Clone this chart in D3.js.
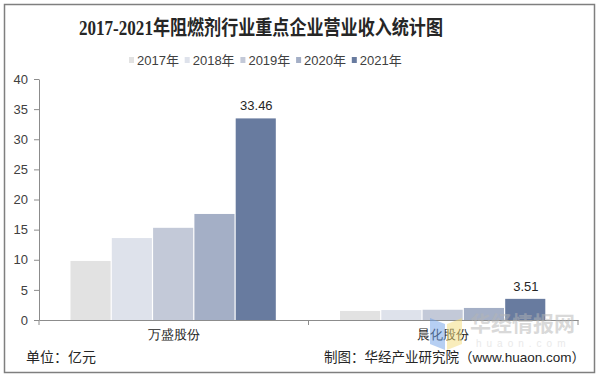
<!DOCTYPE html>
<html>
<head>
<meta charset="utf-8">
<script src="https://cdn.jsdelivr.net/npm/d3@7"></script>
<style>
  body { margin: 0; background: #fff; }
  svg { display: block; font-family: Arial, "Liberation Sans", "Noto Sans CJK SC", sans-serif; }
</style>
</head>
<body>
<div id="chart"></div>
<script>
// chart data
let companies = ["万盛股份", "晨化股份"];
let years = ["2017年", "2018年", "2019年", "2020年", "2021年"];
let wansheng = [9.8, 13.6, 15.3, 17.6, 33.46];
let chenhua = [1.5, 1.65, 1.7, 2.0, 3.51];
let yTicks = [0, 5, 10, 15, 20, 25, 30, 35, 40];
let colors = ["#e2e2e2", "#dee2eb", "#c3c9d8", "#a4afc6", "#687b9f"];

let width = 599;
let height = 376;

let svg = d3.select("#chart")
  .append("svg")
  .attr("width", width).attr("height", height);

// outer frame
svg.append("rect")
  .attr("x", 4.5).attr("y", 4.5)
  .attr("width", 590).attr("height", 368)
  .attr("fill", "none")
  .attr("stroke", "#7f7f7f")
  .attr("stroke-width", 1.5);

// title
svg.append("text")
  .attr("x", 261).attr("y", 35)
  .attr("text-anchor", "middle")
  .attr("font-family", "'Liberation Serif', 'Noto Sans CJK SC', serif")
  .attr("font-weight", "bold")
  .attr("font-size", 20)
  .attr("textLength", 364)
  .attr("lengthAdjust", "spacingAndGlyphs")
  .attr("fill", "#262626")
  .text("2017-2021年阻燃剂行业重点企业营业收入统计图");

// legend
let legend = svg.append("g")
  .selectAll("g")
  .data(years)
  .enter()
  .append("g")
  .attr("transform", (d, i) => `translate(${129 + i * 55.7}, 60)`);

legend.append("rect")
  .attr("x", 0).attr("y", -3)
  .attr("width", 5).attr("height", 6)
  .attr("fill", (d, i) => colors[i]);

legend.append("text")
  .attr("x", 8).attr("y", 4.5)
  .attr("font-size", 13)
  .attr("fill", "#404040")
  .text(d => d);

// scales
let xScale = d3.scaleBand()
  .domain(companies)
  .range([39, 578]);
let inner = d3.scaleBand()
  .domain(years)
  .range([0, 206.5]);
let yScale = d3.scaleLinear()
  .domain([0, 40])
  .range([320, 79]);

// bars
let table = [];
companies.forEach((c, ci) => {
  let vals = ci === 0 ? wansheng : chenhua;
  years.forEach((y, yi) => table.push({ company: c, year: y, value: vals[yi], idx: yi }));
});

let offset = (xScale.bandwidth() - 206.5) / 2;

svg.append("g")
  .selectAll("rect")
  .data(table)
  .enter()
  .append("rect")
  .attr("x", d => xScale(d.company) + offset + inner(d.year))
  .attr("y", d => yScale(d.value))
  .attr("width", inner.bandwidth() - 1.2)
  .attr("height", d => yScale(0) - yScale(d.value))
  .attr("fill", d => colors[d.idx]);

// value labels on 2021 bars only
svg.append("g")
  .selectAll("text")
  .data(table.filter(d => d.idx === 4))
  .enter()
  .append("text")
  .attr("x", d => xScale(d.company) + offset + inner(d.year) + inner.bandwidth() / 2)
  .attr("y", d => yScale(d.value) - 8)
  .attr("text-anchor", "middle")
  .attr("font-size", 13)
  .attr("fill", "#262626")
  .text(d => d.value.toFixed(2));

// y axis
let yAxis = svg.append("g")
  .attr("transform", "translate(39, 0)")
  .call(d3.axisLeft(yScale).tickValues(yTicks).tickSize(5).tickPadding(6).tickSizeOuter(0));
yAxis.select(".domain").attr("stroke", "#8c8c8c");
yAxis.selectAll(".tick line").attr("stroke", "#8c8c8c");
yAxis.selectAll(".tick text")
  .attr("font-size", 13)
  .attr("fill", "#404040");

// x axis
let xAxis = svg.append("g")
  .attr("transform", "translate(0, 320)")
  .call(d3.axisBottom(xScale).tickSize(0).tickPadding(10).tickSizeOuter(0));
xAxis.select(".domain").attr("stroke", "#8c8c8c");
xAxis.selectAll(".tick text")
  .attr("font-size", 13)
  .attr("fill", "#262626");
xAxis.selectAll("line.sep")
  .data([39, 39 + xScale.bandwidth(), 578])
  .enter()
  .append("line")
  .attr("class", "sep")
  .attr("x1", d => d).attr("x2", d => d)
  .attr("y1", 0).attr("y2", 5)
  .attr("stroke", "#8c8c8c");

// watermark
let wm = svg.append("g").attr("opacity", 0.5);
wm.append("path")
  .attr("d", "M430,318 L445,324 L445,350 L430,344 Z")
  .attr("fill", "#6fa0e8");
wm.append("path")
  .attr("d", "M447,324 L462,318 L462,344 L447,350 Z")
  .attr("fill", "#f4dd7a");
wm.append("text")
  .attr("x", 470).attr("y", 331)
  .attr("font-size", 21)
  .attr("font-weight", "bold")
  .attr("fill", "#b5b5b5")
  .text("华经情报网");
wm.append("text")
  .attr("x", 476).attr("y", 347)
  .attr("font-size", 10)
  .attr("letter-spacing", 5)
  .attr("fill", "#d5d5d5")
  .text("huaon.com");

// footer notes
svg.append("text")
  .attr("x", 26).attr("y", 362)
  .attr("font-size", 14)
  .attr("fill", "#262626")
  .text("单位：亿元");

svg.append("text")
  .attr("x", 585).attr("y", 362)
  .attr("text-anchor", "end")
  .attr("font-size", 13.5)
  .attr("fill", "#262626")
  .text("制图：华经产业研究院（www.huaon.com）");
</script>
</body>
</html>
